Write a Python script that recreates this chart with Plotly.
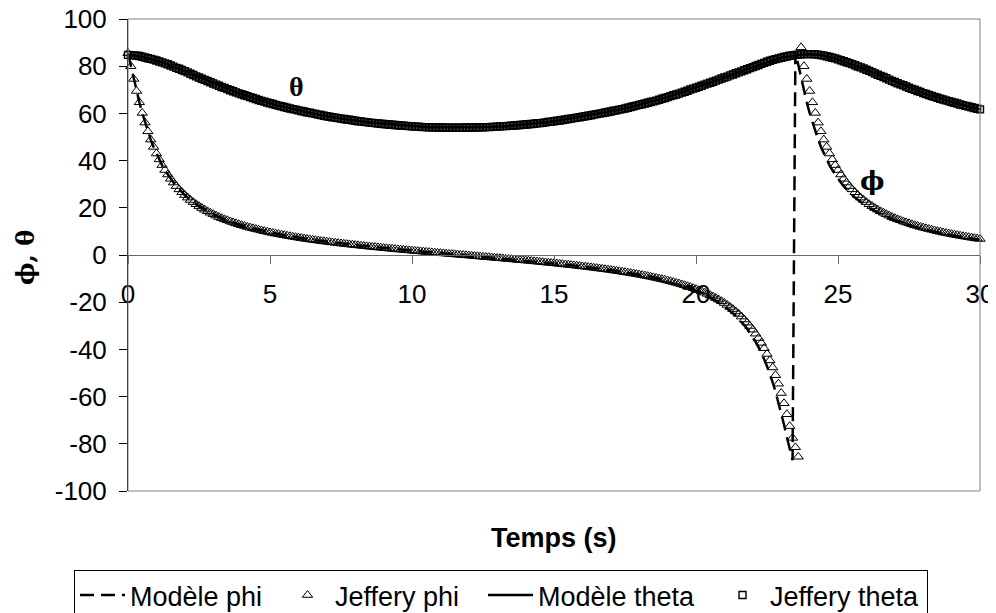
import plotly.graph_objects as go

# ---- time axis (s), sampled every 0.1 s from 0 to 30 ----
time_s = [i / 10 for i in range(301)]

# ---- Jeffery phi (deg) ----
phi_jeffery_a = [  # t = 0.0 .. 6.3
    85.5, 80.0, 74.6, 69.5, 64.7, 60.2, 56.1, 52.4, 48.9, 45.8,
    43.0, 40.5, 38.1, 36.0, 34.1, 32.3, 30.7, 29.2, 27.8, 26.6,
    25.4, 24.3, 23.3, 22.4, 21.5, 20.7, 19.9, 19.2, 18.5, 17.9,
    17.3, 16.7, 16.1, 15.6, 15.1, 14.7, 14.2, 13.8, 13.4, 13.0,
    12.6, 12.3, 11.9, 11.6, 11.3, 11.0, 10.7, 10.4, 10.1, 9.85,
    9.56, 9.32, 9.08, 8.84, 8.61, 8.38, 8.16, 7.95, 7.74, 7.54,
    7.35, 7.16, 6.97, 6.79]
phi_jeffery_b = [  # t = 6.4 .. 19.0
    6.61, 6.44, 6.27, 6.11, 5.94, 5.78, 5.63, 5.47, 5.32, 5.17,
    5.02, 4.88, 4.74, 4.60, 4.46, 4.33, 4.20, 4.07, 3.94, 3.81,
    3.69, 3.56, 3.44, 3.32, 3.20, 3.08, 2.96, 2.85, 2.73, 2.62,
    2.50, 2.39, 2.28, 2.17, 2.06, 1.95, 1.84, 1.73, 1.63, 1.52,
    1.42, 1.31, 1.21, 1.10, 1.00, 0.89, 0.79, 0.69, 0.59, 0.48,
    0.38, 0.28, 0.18, 0.07, -0.03, -0.13, -0.23, -0.33, -0.44, -0.54,
    -0.65, -0.75, -0.85, -0.96, -1.06, -1.17, -1.27, -1.38, -1.48, -1.59,
    -1.69, -1.80, -1.91, -2.02, -2.12, -2.23, -2.34, -2.45, -2.56, -2.68,
    -2.79, -2.91, -3.03, -3.15, -3.27, -3.39, -3.51, -3.63, -3.76, -3.88,
    -4.01, -4.14, -4.27, -4.40, -4.54, -4.68, -4.82, -4.96, -5.11, -5.26,
    -5.41, -5.56, -5.72, -5.88, -6.04, -6.20, -6.37, -6.54, -6.72, -6.90,
    -7.08, -7.27, -7.46, -7.66, -7.86, -8.07, -8.29, -8.51, -8.73, -8.96,
    -9.21, -9.46, -9.72, -9.98, -10.25, -10.53, -10.82]
phi_jeffery_c = [  # t = 19.1 .. 23.6
    -11.13, -11.45, -11.78, -12.12, -12.47, -12.84, -13.22, -13.62, -14.04, -14.48,
    -14.94, -15.43, -15.93, -16.46, -17.02, -17.62, -18.24, -18.91, -19.62, -20.36,
    -21.17, -22.02, -22.94, -23.92, -24.97, -26.09, -27.32, -28.65, -30.08, -31.63,
    -33.34, -35.20, -37.24, -39.49, -41.93, -44.66, -47.65, -50.93, -54.54, -58.49,
    -62.83, -67.49, -72.49, -77.5, -81.5, -85.5]
phi_jeffery_d = [  # t = 23.7 .. 30.0
    88.0, 80.0, 74.6, 69.5, 64.7, 60.2, 56.1, 52.4, 48.9, 45.8,
    43.0, 40.5, 38.1, 36.0, 34.1, 32.3, 30.7, 29.2, 27.8, 26.6,
    25.4, 24.3, 23.3, 22.4, 21.5, 20.7, 19.9, 19.2, 18.5, 17.9,
    17.3, 16.7, 16.1, 15.6, 15.1, 14.7, 14.2, 13.8, 13.4, 13.0,
    12.6, 12.3, 11.9, 11.6, 11.3, 11.0, 10.7, 10.4, 10.1, 9.85,
    9.56, 9.32, 9.08, 8.84, 8.61, 8.38, 8.16, 7.95, 7.74, 7.54,
    7.35, 7.16, 6.97, 6.79]

# ---- Modèle phi (deg): same as Jeffery up to t = 18.9, then its own values ----
phi_model_c = [  # t = 19.0 .. 23.4
    -11.31, -11.64, -11.98, -12.32, -12.68, -13.06, -13.46, -13.88, -14.31, -14.77,
    -15.25, -15.75, -16.28, -16.83, -17.42, -18.04, -18.70, -19.40, -20.14, -20.93,
    -21.77, -22.68, -23.66, -24.70, -25.80, -27.01, -28.33, -29.75, -31.28, -32.97,
    -34.81, -36.83, -39.06, -41.47, -44.17, -47.14, -50.40, -54.0, -57.9, -62.3,
    -66.9, -71.9, -77.2, -82.7, -87.0]
phi_model_d = [  # t = 23.5 .. 30.0
    86.0, 80.4, 74.6, 69.5, 64.7, 60.2, 56.1, 52.4, 48.9, 45.8,
    43.0, 40.5, 38.1, 36.0, 34.1, 32.3, 30.7, 29.2, 27.8, 26.6,
    25.4, 24.3, 23.3, 22.4, 21.5, 20.7, 19.9, 19.2, 18.5, 17.9,
    17.3, 16.7, 16.1, 15.6, 15.1, 14.7, 14.2, 13.8, 13.4, 13.0,
    12.6, 12.3, 11.9, 11.6, 11.3, 11.0, 10.7, 10.4, 10.1, 9.85,
    9.56, 9.32, 9.08, 8.84, 8.61, 8.38, 8.16, 7.95, 7.74, 7.54,
    7.35, 7.16, 6.97, 6.79, 6.61, 6.44]

# ---- theta (deg) ----
theta_jeffery = [
    84.8,
    84.7, 84.6, 84.5, 84.3, 84.0, 83.7, 83.4, 83.1, 82.8, 82.4,
    82.0, 81.6, 81.2, 80.8, 80.3, 79.8, 79.3, 78.9, 78.4, 77.9,
    77.4, 76.8, 76.3, 75.7, 75.2, 74.7, 74.2, 73.7, 73.2, 72.7,
    72.2, 71.7, 71.2, 70.8, 70.3, 69.8, 69.4, 68.9, 68.5, 68.1,
    67.7, 67.3, 66.9, 66.5, 66.1, 65.7, 65.3, 65.0, 64.6, 64.3,
    64.0, 63.6, 63.3, 63.0, 62.7, 62.4, 62.1, 61.8, 61.6, 61.3,
    61.0, 60.8, 60.5, 60.3, 60.0, 59.8, 59.5, 59.3, 59.0, 58.8,
    58.6, 58.4, 58.2, 58.0, 57.8, 57.6, 57.4, 57.3, 57.1, 56.9,
    56.7, 56.6, 56.4, 56.3, 56.1, 56.0, 55.9, 55.7, 55.6, 55.5,
    55.4, 55.3, 55.2, 55.1, 55.0, 54.9, 54.8, 54.7, 54.6, 54.5,
    54.4, 54.4, 54.3, 54.2, 54.2, 54.1, 54.1, 54.1, 54.0, 54.0,
    54.0, 53.9, 53.9, 53.9, 53.9, 53.9, 53.9, 53.9, 54.0, 54.0,
    54.0, 54.0, 54.1, 54.1, 54.1, 54.2, 54.2, 54.3, 54.3, 54.4,
    54.5, 54.6, 54.6, 54.7, 54.8, 54.9, 55.0, 55.1, 55.2, 55.3,
    55.4, 55.5, 55.6, 55.8, 55.9, 56.0, 56.2, 56.4, 56.5, 56.7,
    56.9, 57.0, 57.2, 57.4, 57.6, 57.8, 58.0, 58.2, 58.4, 58.6,
    58.8, 59.0, 59.2, 59.5, 59.7, 59.9, 60.1, 60.4, 60.6, 60.8,
    61.1, 61.3, 61.6, 61.8, 62.1, 62.4, 62.7, 63.0, 63.3, 63.6,
    63.9, 64.2, 64.5, 64.8, 65.1, 65.4, 65.8, 66.2, 66.5, 66.9,
    67.3, 67.7, 68.0, 68.4, 68.8, 69.2, 69.6, 70.1, 70.5, 70.9,
    71.3, 71.7, 72.2, 72.6, 73.0, 73.4, 73.9, 74.3, 74.8, 75.2,
    75.6, 76.1, 76.5, 77.0, 77.4, 77.8, 78.3, 78.7, 79.2, 79.6,
    80.1, 80.5, 81.0, 81.4, 81.9, 82.3, 82.7, 83.0, 83.3, 83.6,
    83.9, 84.1, 84.4, 84.6, 84.8, 84.9, 85.0, 85.1, 85.1, 85.1,
    85.1, 85.0, 84.9, 84.7, 84.5, 84.2, 83.9, 83.6, 83.3, 82.9,
    82.5, 82.1, 81.7, 81.3, 80.9, 80.4, 79.9, 79.5, 79.0, 78.5,
    78.0, 77.5, 76.9, 76.4, 75.9, 75.4, 74.9, 74.3, 73.8, 73.3,
    72.8, 72.3, 71.9, 71.4, 70.9, 70.4, 70.0, 69.5, 69.1, 68.6,
    68.2, 67.8, 67.4, 67.0, 66.6, 66.2, 65.9, 65.5, 65.2, 64.8,
    64.5, 64.2, 63.8, 63.5, 63.2, 62.9, 62.6, 62.3, 62.0, 61.7]
theta_model = theta_jeffery

# ---- ticks ----
x_tick_vals = [0, 5, 10, 15, 20, 25, 30]
x_tick_text = ["0", "5", "10", "15", "20", "25", "30"]
y_tick_vals = [100, 80, 60, 40, 20, 0, -20, -40, -60, -80, -100]
y_tick_text = ["100", "80", "60", "40", "20", "0", "-20", "-40", "-60", "-80", "-100"]

phi_jeffery = phi_jeffery_a + phi_jeffery_b + phi_jeffery_c + phi_jeffery_d
phi_model = phi_jeffery_a + phi_jeffery_b[:126] + phi_model_c + phi_model_d
for name, s in [("phi_jeffery", phi_jeffery), ("phi_model", phi_model), ("theta", theta_jeffery)]:
    assert len(s) == len(time_s), (name, len(s))

FONT = "Liberation Sans, Arial, sans-serif"
W, H = 996, 613
PAGE_OFFSET = 8                              # default body margin of the page
# plot-area edges as seen on screen
SL, SR, ST, SB = 128, 980, 19, 491
PL, PR, PT, PB = SL - PAGE_OFFSET, SR - PAGE_OFFSET, ST - PAGE_OFFSET, SB - PAGE_OFFSET
PW, PH = SR - SL, SB - ST


def px_x(x):
    return (x - SL) / PW


def px_y(y):
    return (SB - y) / PH


fig = go.Figure()
fig.add_trace(go.Scatter(
    x=time_s, y=phi_model, mode="lines", name="Modèle phi", legendwidth=145,
    line=dict(color="black", width=2.5, dash="14px,7px")))
fig.add_trace(go.Scatter(
    x=time_s, y=phi_jeffery, mode="markers", name="Jeffery phi", cliponaxis=False,
    legendwidth=143,
    marker=dict(symbol="triangle-up-open", size=9, color="black", line=dict(width=1))))
fig.add_trace(go.Scatter(
    x=time_s, y=theta_model, mode="lines", name="Modèle theta", legendwidth=172,
    line=dict(color="black", width=2.5)))
fig.add_trace(go.Scatter(
    x=time_s, y=theta_jeffery, mode="markers", name="Jeffery theta", cliponaxis=False,
    legendwidth=152,
    marker=dict(symbol="square-open", size=7, color="black", line=dict(width=1.4))))

fig.update_layout(
    width=W, height=H,
    margin=dict(l=PL, r=W - PR, t=PT, b=H - PB, autoexpand=False),
    paper_bgcolor="white", plot_bgcolor="white",
    font=dict(family=FONT, color="black"),
    showlegend=True,
    legend=dict(
        orientation="h", x=px_x(74), xanchor="left", y=px_y(570), yanchor="top",
        bordercolor="black", borderwidth=1, bgcolor="white",
        font=dict(family=FONT, size=27, color="black"),
        itemwidth=45, tracegroupgap=0,
    ),
    xaxis=dict(
        range=[0, 30], tickvals=x_tick_vals, ticktext=x_tick_text,
        anchor="free", position=0.5, automargin=False,
        ticks="outside", ticklen=8, tickcolor="#666666", tickwidth=1,
        ticklabelstandoff=8, ticklabeloverflow="allow",
        showline=True, linecolor="#666666", linewidth=1,
        showgrid=False, zeroline=False,
        tickfont=dict(family=FONT, size=26, color="black"),
    ),
    yaxis=dict(
        range=[-100, 100], tickvals=y_tick_vals, ticktext=y_tick_text,
        automargin=False,
        ticks="outside", ticklen=8, tickcolor="black", tickwidth=1,
        ticklabelstandoff=7, ticklabeloverflow="allow",
        showline=True, linecolor="black", linewidth=1,
        showgrid=False, zeroline=False,
        tickfont=dict(family=FONT, size=26, color="black"),
    ),
    shapes=[dict(type="rect", xref="paper", yref="paper", x0=0, x1=1, y0=0, y1=1,
                 line=dict(color="#808080", width=1), layer="above")],
    annotations=[
        dict(text="<b>Temps (s)</b>", xref="paper", yref="paper", x=0.5, y=px_y(538),
             xanchor="center", yanchor="middle", showarrow=False,
             font=dict(family=FONT, size=27, color="black")),
        dict(text="<b>ϕ, θ</b>", xref="paper", yref="paper", x=px_x(25), y=px_y(258),
             xanchor="center", yanchor="middle", textangle=-90, showarrow=False,
             font=dict(family="DejaVu Serif, serif", size=24, color="black")),
        dict(text="<b>θ</b>", xref="x", yref="y", x=5.95, y=71.6,
             xanchor="center", yanchor="middle", showarrow=False,
             font=dict(family="Liberation Serif, serif", size=28, color="black")),
        dict(text="<b>ϕ</b>", xref="x", yref="y", x=26.2, y=31.4,
             xanchor="center", yanchor="middle", showarrow=False,
             font=dict(family="DejaVu Serif, serif", size=26, color="black")),
    ],
)

fig.write_html("out.html")
